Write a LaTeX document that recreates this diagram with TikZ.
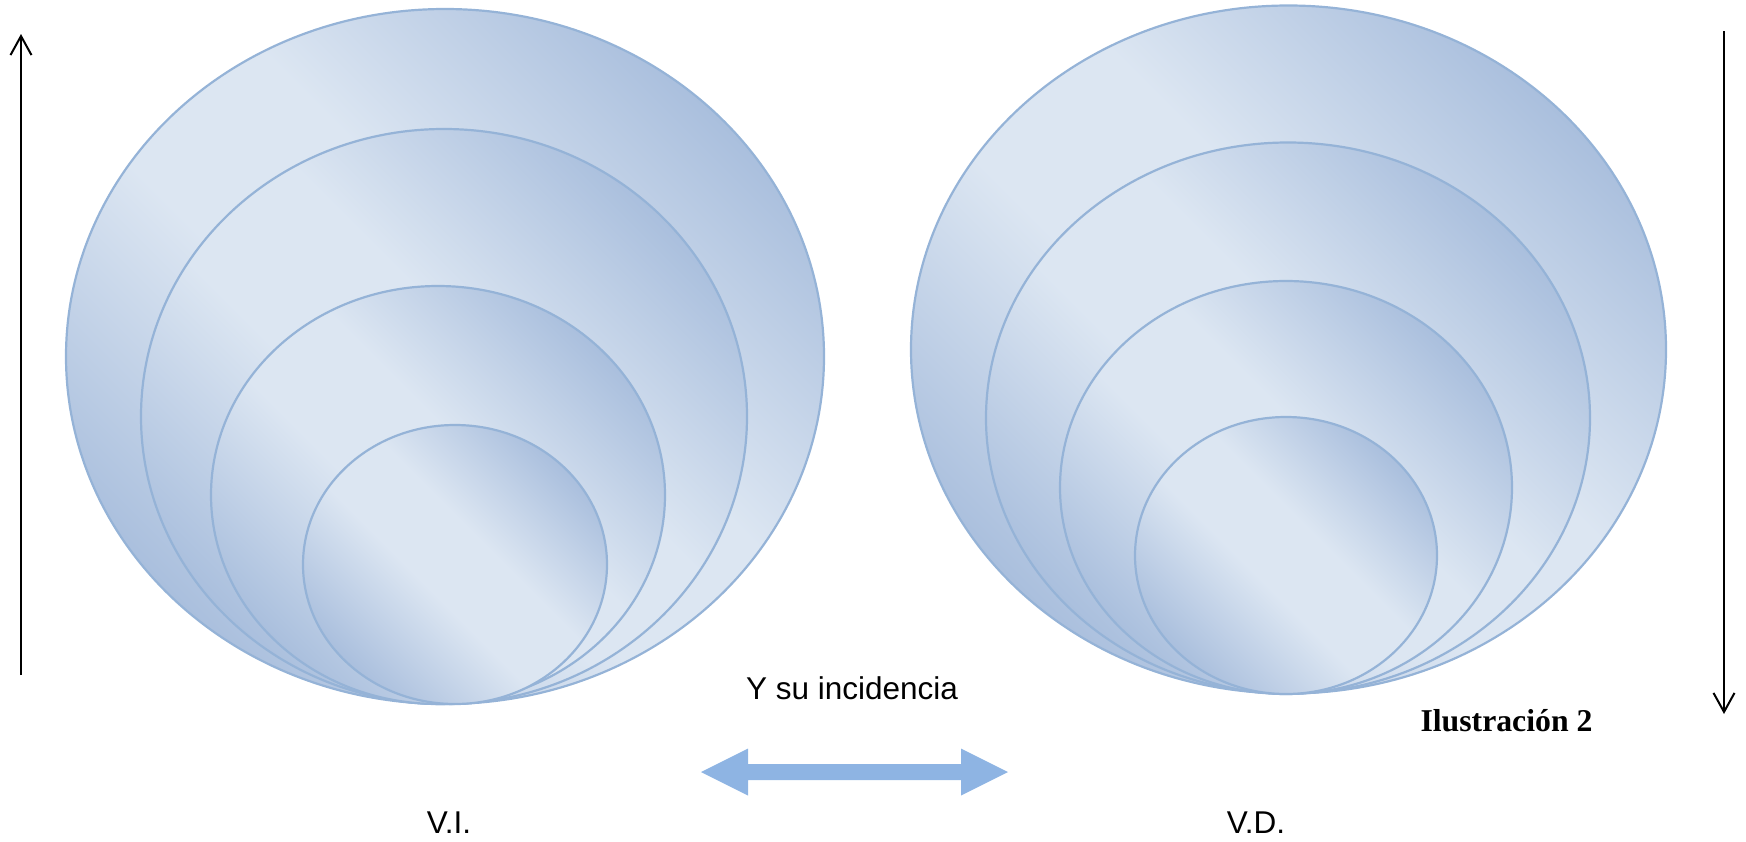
\documentclass[tikz,border=0pt]{standalone}
\usepackage{fontspec}
\setmainfont{Liberation Sans}
\newfontfamily\captionfont{Liberation Serif}
\usepackage{tikz}
\usetikzlibrary{shapes.geometric, arrows.meta}
\definecolor{ringdark}{HTML}{A2B9DA}
\definecolor{ringlight}{HTML}{DCE6F2}
\definecolor{ringline}{HTML}{95B3D7}
\definecolor{linkblue}{HTML}{8EB4E3}
\pgfdeclarehorizontalshading{ringshade}{100bp}{color(0bp)=(ringdark); color(22bp)=(ringdark); color(44bp)=(ringlight); color(56bp)=(ringlight); color(78bp)=(ringdark); color(100bp)=(ringdark)}
\tikzstyle{ring} = [ellipse, draw=ringline, line width=2.2pt, shading=ringshade, shading angle=45, inner sep=0pt]
\tikzstyle{tag} = [font=\fontsize{31.5}{38}\selectfont, inner sep=0pt, anchor=base]
\tikzstyle{arrow} = [line width=2pt, -{Straight Barb[length=19pt, width=21pt]}]

\begin{document}
\begin{tikzpicture}[x=1pt, y=-1pt]
\useasboundingbox (0,0) rectangle (1746,841);

\node (vi1) [ring, minimum width=758pt, minimum height=695pt] at (445,356.5) {};
\node (vi2) [ring, minimum width=606pt, minimum height=575pt] at (444,416.5) {};
\node (vi3) [ring, minimum width=454pt, minimum height=418pt] at (438,495) {};
\node (vi4) [ring, minimum width=304pt, minimum height=279pt] at (455,564.5) {};

\node (vd1) [ring, minimum width=755pt, minimum height=688pt] at (1288.5,349.5) {};
\node (vd2) [ring, minimum width=604pt, minimum height=551pt] at (1288,418) {};
\node (vd3) [ring, minimum width=452pt, minimum height=413pt] at (1286,487.5) {};
\node (vd4) [ring, minimum width=302pt, minimum height=277pt] at (1286,555.5) {};

\coordinate (up0) at (21,675);
\coordinate (up1) at (21,34);
\coordinate (dn0) at (1724,31);
\coordinate (dn1) at (1724,714);
\draw [arrow] (up0) -- (up1);
\draw [arrow] (dn0) -- (dn1);

\coordinate (link) at (854.5,772);
\fill [linkblue, shift={(link)}] (-153.5,0) -- (-106.5,-23.5) -- (-106.5,-8) -- (106.5,-8) -- (106.5,-23.5)
  -- (153.5,0) -- (106.5,23.5) -- (106.5,8) -- (-106.5,8) -- (-106.5,23.5) -- cycle;

\node (inc) [tag] at (852,699) {Y su incidencia};
\node (vi) [tag] at (449,833) {V.I.};
\node (vd) [tag] at (1256,833) {V.D.};
\node (ilus) [tag, font=\fontsize{31.75}{38}\selectfont\captionfont\bfseries] at (1506.5,731) {Ilustración 2};
\end{tikzpicture}
\end{document}
